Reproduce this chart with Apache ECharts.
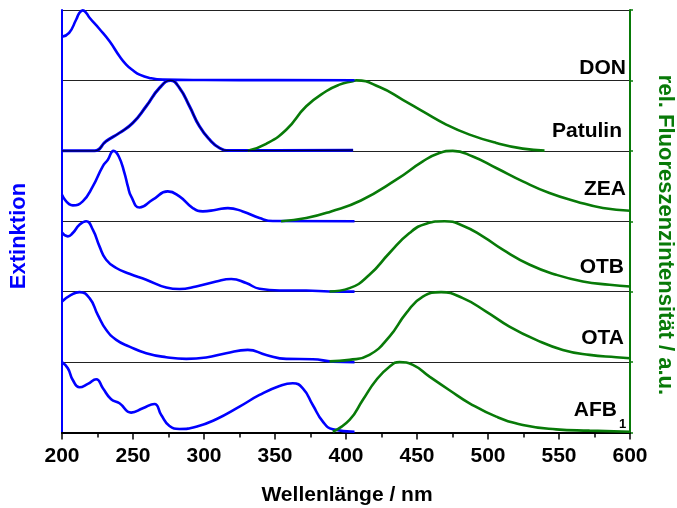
<!DOCTYPE html>
<html>
<head>
<meta charset="utf-8">
<script src="https://cdn.jsdelivr.net/npm/echarts@6/dist/echarts.min.js"></script>
<style>html,body{margin:0;padding:0;background:#fff}#c{width:677px;height:508px}</style>
</head>
<body>
<div id="c"></div>
<script>
// x tick labels
const xTicks = [200, 250, 300, 350, 400, 450, 500, 550, 600];
// panel names (bottom to top)
const panels = ['AFB', 'OTA', 'OTB', 'ZEA', 'Patulin', 'DON'];

// [wavelength nm, normalized intensity within panel]
const DON_abs = [[200,0.62],[205,0.675],[210,0.865],[212.3,0.96],[214.6,0.995],[217,0.96],[219.4,0.89],[226.4,0.73],[233.5,0.556],[240.5,0.343],[245.2,0.225],[249.9,0.144],[254.6,0.082],[261.6,0.035],[271,0.011],[300,0.006],[350,0.004],[406,0.003]];

const PAT_abs = [[200,0],[223,0],[231,0.135],[240.5,0.255],[249.9,0.397],[259.3,0.633],[268.7,0.894],[276.4,1.0],[282.7,0.894],[289.8,0.633],[296.8,0.348],[303.9,0.16],[310.9,0.04],[318,0.005],[350,0.003],[405,0.01]];
const PAT_fl = [[330.8,0],[343.8,0.10],[357.9,0.30],[372,0.633],[386,0.846],[395.4,0.94],[404.8,0.99],[407.2,1.0],[423.6,0.906],[440,0.725],[454.1,0.56],[470.6,0.373],[487,0.23],[505.8,0.112],[524.5,0.031],[539.8,0.003]];

const ZEA_abs = [[200,0.377],[207.6,0.225],[214.6,0.282],[221.7,0.495],[228.7,0.78],[232.3,0.874],[236.3,1.0],[240,0.92],[244,0.685],[246.4,0.495],[248.7,0.353],[254.6,0.196],[263.9,0.306],[274.5,0.424],[282.7,0.353],[292.1,0.187],[299.2,0.14],[308.6,0.164],[316.8,0.187],[327.3,0.14],[339.1,0.045],[348.5,0.003],[406,0.0]];
const ZEA_fl = [[354.3,0],[372,0.045],[389.5,0.14],[410.5,0.295],[435.4,0.59],[454.1,0.85],[465.8,0.97],[475.2,1.0],[489.3,0.92],[505.8,0.756],[524.5,0.566],[543.3,0.4],[562.1,0.282],[580.9,0.187],[600,0.15]];

const OTB_abs = [[200,0.84],[204.1,0.785],[207.6,0.833],[212.3,0.95],[217,1.0],[221.7,0.88],[226.4,0.643],[231.1,0.453],[238.2,0.336],[247.5,0.255],[259.3,0.17],[273.4,0.06],[282.7,0.037],[294.5,0.074],[308.6,0.145],[319.2,0.179],[329.7,0.122],[339.1,0.041],[353.2,0.017],[372,0.017],[388.4,0.003],[406,0]];
const OTB_fl = [[388.4,0.003],[402.5,0.05],[416.5,0.24],[430.6,0.549],[444.7,0.833],[456.5,0.965],[469.4,1.0],[482.3,0.937],[496.3,0.785],[510.4,0.596],[529.4,0.382],[548,0.24],[566.8,0.145],[585.6,0.098],[600,0.074]];

const OTA_abs = [[200,0.86],[206.4,0.955],[212.3,0.994],[219.4,0.908],[225.2,0.671],[231.1,0.458],[238.2,0.316],[247.5,0.22],[259.3,0.126],[273.4,0.069],[287.5,0.045],[301.5,0.064],[315.6,0.126],[330.8,0.173],[343.8,0.102],[357.9,0.045],[376.6,0.041],[390.7,0.007],[406,0]];
const OTA_fl = [[388.4,0.01],[402.5,0.031],[416.5,0.102],[430.6,0.363],[442.4,0.695],[454.1,0.931],[467,0.994],[482.3,0.908],[498.7,0.718],[515.1,0.505],[533.9,0.316],[552.7,0.173],[571.5,0.102],[590.3,0.069],[600,0.055]];

const AFB_abs = [[200,1.0],[204.1,0.913],[207.6,0.746],[212.3,0.643],[218.2,0.69],[224.1,0.756],[228.8,0.628],[234.6,0.472],[240.5,0.415],[248.7,0.282],[256.9,0.344],[265.1,0.405],[269.9,0.249],[275.7,0.092],[282.7,0.05],[294.5,0.082],[308.6,0.188],[325,0.367],[339.1,0.533],[353.2,0.661],[362.5,0.7],[369.6,0.628],[376.6,0.391],[383.7,0.154],[390.7,0.045],[406,0.01]];
const AFB_fl = [[390.7,0.01],[402.5,0.178],[411.8,0.462],[421.3,0.746],[430.6,0.935],[437.7,1.0],[447.1,0.96],[458.8,0.793],[472.9,0.6],[487,0.415],[505.8,0.225],[524.5,0.107],[548,0.045],[571.5,0.026],[600,0.01]];

const BLUE = '#0000ff', GREEN = '#087a08';
const FONT = "'Liberation Sans', Arial, Helvetica, sans-serif";

function shift(arr, base) { return arr.map(p => [p[0], p[1] + base]); }
function line(arr, base, color, width, z) {
  return { type: 'line', data: shift(arr, base), showSymbol: false, smooth: 0.5,
    lineStyle: { color: color, width: width || 2.6 }, z: z || 2, animation: false, silent: true };
}

const series = [
  line(AFB_abs, 0, BLUE), line(AFB_fl, 0, GREEN),
  line(OTA_abs, 1, BLUE), line(OTA_fl, 1, GREEN),
  line(OTB_abs, 2, BLUE), line(OTB_fl, 2, GREEN),
  line(ZEA_abs, 3, BLUE), line(ZEA_fl, 3, GREEN),
  line(PAT_abs, 4, BLUE, 3), line(PAT_abs, 4, '#000040', 1.1, 3), line(PAT_fl, 4, GREEN),
  line(DON_abs, 5, BLUE)
];

const chart = echarts.init(document.getElementById('c'), null, { renderer: 'canvas' });
chart.setOption({
  backgroundColor: '#fff',
  animation: false,
  grid: { left: 62, right: 47, top: 10, bottom: 75.5 },
  xAxis: [
    { type: 'value', min: 200, max: 600, interval: 50, position: 'bottom',
      axisLine: { show: true, lineStyle: { color: '#000', width: 2 } },
      axisTick: { show: true, length: 7, lineStyle: { color: '#000', width: 1.5 } },
      minorTick: { show: true, splitNumber: 2, length: 4, lineStyle: { color: '#000', width: 1.5 } },
      splitLine: { show: false },
      axisLabel: { show: true, margin: 13, color: '#000', fontWeight: 'bold', fontSize: 21, fontFamily: FONT,
        formatter: v => (xTicks.indexOf(v) >= 0 ? String(v) : '') } },
    { type: 'value', min: 200, max: 600, interval: 50, position: 'top',
      axisLine: { show: true, lineStyle: { color: '#000', width: 1.5 } },
      axisTick: { show: true, inside: true, length: 5, lineStyle: { color: '#000', width: 1.5 } },
      minorTick: { show: true, splitNumber: 2, length: 5, lineStyle: { color: '#000', width: 1.5 } },
      splitLine: { show: false }, axisLabel: { show: false } }
  ],
  yAxis: [
    { type: 'value', min: 0, max: 6, interval: 1, position: 'left',
      axisLine: { show: true, lineStyle: { color: BLUE, width: 2 } },
      axisTick: { show: false }, axisLabel: { show: false },
      splitLine: { show: true, lineStyle: { color: '#222', width: 1.2 } } },
    { type: 'value', min: 0, max: 6, interval: 1, position: 'right',
      axisLine: { show: true, lineStyle: { color: GREEN, width: 2 } },
      axisTick: { show: true, length: 3, lineStyle: { color: GREEN, width: 1.5 } },
      axisLabel: { show: false }, splitLine: { show: false } }
  ],
  series: series,
  graphic: [
    { type: 'text', x: 19, y: 236, rotation: Math.PI / 2,
      style: { text: 'Extinktion', font: 'bold 22px ' + FONT, fill: BLUE, align: 'center', verticalAlign: 'middle' } },
    { type: 'text', x: 665, y: 235, rotation: -Math.PI / 2,
      style: { text: 'rel. Fluoreszenzintensität / a.u.', font: 'bold 22px ' + FONT, fill: GREEN, align: 'center', verticalAlign: 'middle' } },
    { type: 'text', x: 347, y: 495,
      style: { text: 'Wellenlänge / nm', font: 'bold 21px ' + FONT, fill: '#000', align: 'center', verticalAlign: 'middle' } },
    { type: 'text', x: 626, y: 68, style: { text: panels[5], font: 'bold 21px ' + FONT, fill: '#000', align: 'right', verticalAlign: 'middle' } },
    { type: 'text', x: 622, y: 131, style: { text: panels[4], font: 'bold 21px ' + FONT, fill: '#000', align: 'right', verticalAlign: 'middle' } },
    { type: 'text', x: 626, y: 189, style: { text: panels[3], font: 'bold 21px ' + FONT, fill: '#000', align: 'right', verticalAlign: 'middle' } },
    { type: 'text', x: 624, y: 267, style: { text: panels[2], font: 'bold 21px ' + FONT, fill: '#000', align: 'right', verticalAlign: 'middle' } },
    { type: 'text', x: 624, y: 338, style: { text: panels[1], font: 'bold 21px ' + FONT, fill: '#000', align: 'right', verticalAlign: 'middle' } },
    { type: 'text', x: 617, y: 410, style: { text: panels[0], font: 'bold 21px ' + FONT, fill: '#000', align: 'right', verticalAlign: 'middle' } },
    { type: 'text', x: 619, y: 424, style: { text: '1', font: 'bold 13px ' + FONT, fill: '#000', align: 'left', verticalAlign: 'middle' } }
  ]
});
</script>
</body>
</html>
